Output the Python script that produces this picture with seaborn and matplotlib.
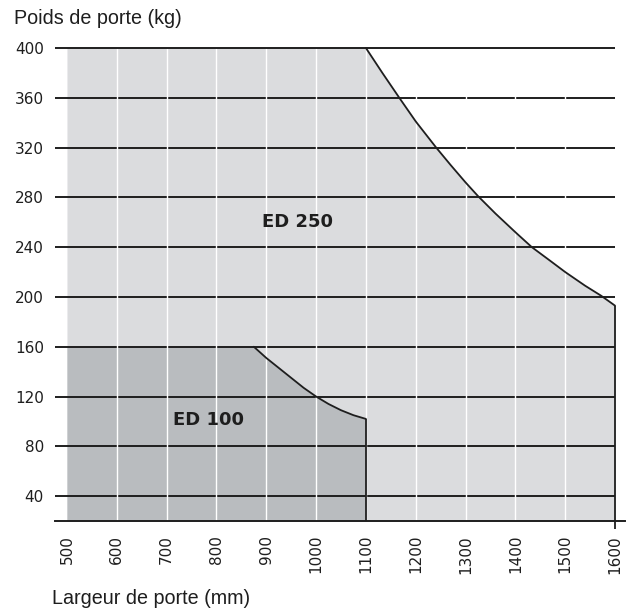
import matplotlib
matplotlib.use('Agg')
import matplotlib.pyplot as plt
import pandas as pd
import seaborn as sns

# door width (mm) / door weight (kg) limits
ed250_width = [500, 1100, 1133, 1167, 1200, 1241, 1270, 1300, 1325, 1360, 1400, 1433, 1470, 1500, 1540, 1572, 1600]
ed250_weight = [400, 400, 380, 360, 341, 320, 306, 292, 281, 267, 252, 240, 229, 220, 209, 201, 193]
ed100_width = [500, 875, 900, 925, 950, 975, 1000, 1025, 1050, 1075, 1100]
ed100_weight = [160, 160, 151, 143, 135, 127, 120, 114, 109, 105, 102]

x_ticks = list(range(500, 1700, 100))
y_ticks = list(range(40, 440, 40))
x_label = 'Largeur de porte (mm)'
y_label = 'Poids de porte (kg)'

sns.set_theme(style='white')
plt.rcParams['font.family'] = ['DejaVu Sans']

light = '#dbdcde'
dark = '#b9bcbf'
ink = '#1e1e1e'

df250 = pd.DataFrame({'width': ed250_width, 'weight': ed250_weight})
df100 = pd.DataFrame({'width': ed100_width, 'weight': ed100_weight})

fig = plt.figure(figsize=(6.35, 6.13), dpi=100)
ax = fig.add_axes([55 / 635, 1 - 521 / 613, 570 / 635, (521 - 43) / 613])
ax.set_xlim(476, 1620)
ax.set_ylim(20, 404)
ybot = 20

ax.fill_between(df250['width'], ybot, df250['weight'], color=light, lw=0, zorder=1)
ax.fill_between(df100['width'], ybot, df100['weight'], color=dark, lw=0, zorder=1.5)

# horizontal black grid, from the left edge up to 1600
ax.hlines(y_ticks[:-1], 476, 1600, color=ink, lw=1.4, zorder=2)
# white vertical grid on top of it, the 400 line stays unbroken
ax.vlines(x_ticks[1:-1], ybot, 400, color='white', lw=1.0, zorder=3)
ax.hlines(y_ticks[-1:], 476, 1600, color=ink, lw=1.4, zorder=3.5)

# limit curves
sns.lineplot(data=df250[df250['width'] >= 1100], x='width', y='weight',
             color=ink, lw=1.3, ax=ax, zorder=4, sort=False)
sns.lineplot(data=df100[df100['width'] >= 875], x='width', y='weight',
             color=ink, lw=1.3, ax=ax, zorder=4, sort=False)
ax.vlines([1100], ybot, ed100_weight[-1], color=ink, lw=1.3, zorder=4)
ax.vlines([1600], 13.5, ed250_weight[-1], color=ink, lw=1.3, zorder=4, clip_on=False)

ax.text(963, 260, 'ED 250', fontsize=13, fontweight='bold', color=ink, ha='center', va='center', zorder=5)
ax.text(785, 101, 'ED 100', fontsize=13, fontweight='bold', color=ink, ha='center', va='center', zorder=5)

for s in ['left', 'right', 'top']:
    ax.spines[s].set_visible(False)
ax.spines['bottom'].set_color(ink)
ax.spines['bottom'].set_linewidth(1.4)
ax.spines['bottom'].set_zorder(6)

ax.set_xticks(x_ticks)
ax.set_xticklabels([str(v) for v in x_ticks], rotation=90, fontsize=11, color=ink)
ax.set_yticks(y_ticks)
ax.set_yticklabels([str(v) for v in y_ticks], fontsize=11, color=ink)
ax.tick_params(axis='both', length=0)
ax.tick_params(axis='x', pad=10)
ax.tick_params(axis='y', pad=8)
ax.set_xlabel('')
ax.set_ylabel('')

fig.text(14 / 635, 1 - 19 / 613, y_label, fontsize=14.2, color=ink, ha='left', va='center',
         family=['Liberation Sans Narrow', 'Liberation Sans', 'DejaVu Sans'])
fig.text(52 / 635, 1 - 598 / 613, x_label, fontsize=14.2, color=ink, ha='left', va='center',
         family=['Liberation Sans Narrow', 'Liberation Sans', 'DejaVu Sans'])

fig.savefig('out.png', dpi=100, facecolor='white')
